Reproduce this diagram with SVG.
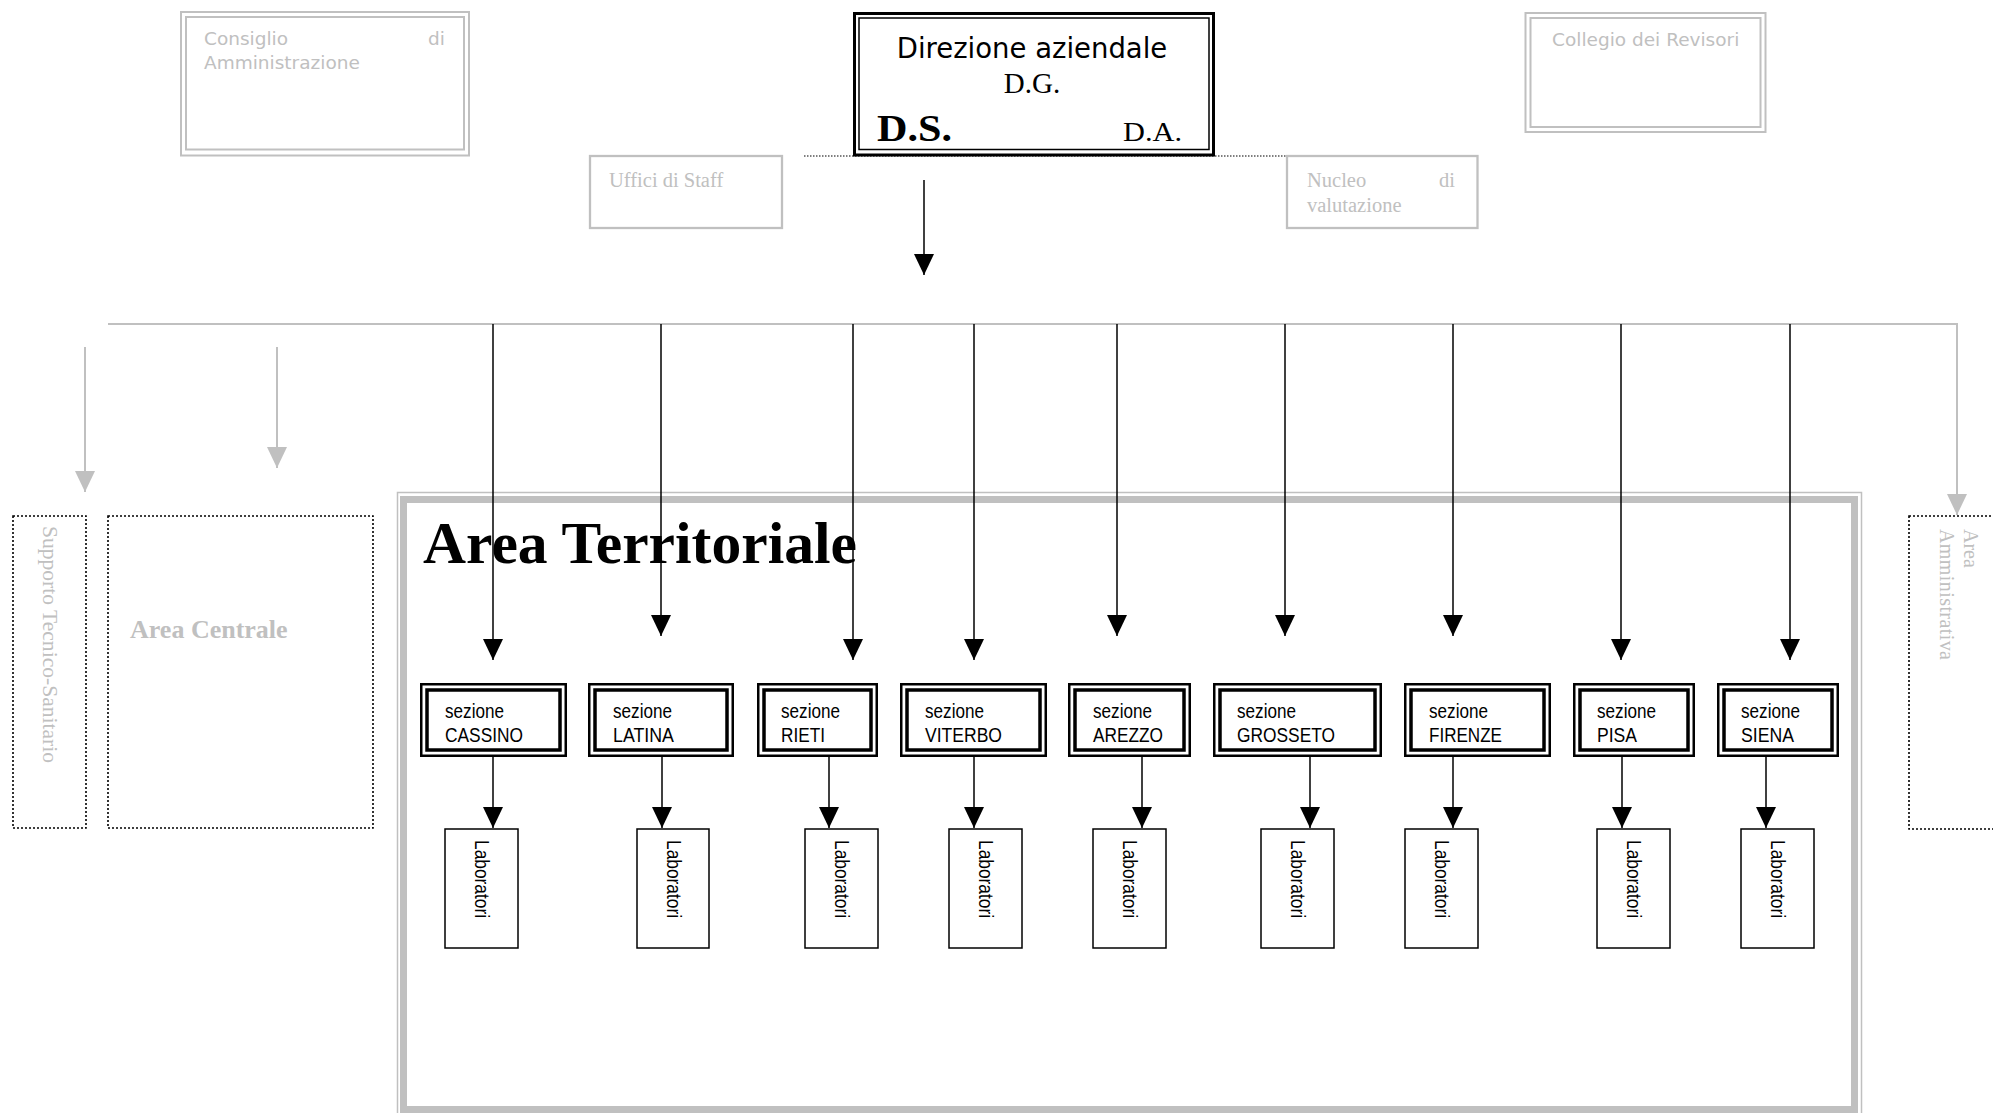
<svg xmlns="http://www.w3.org/2000/svg" width="1993" height="1113" viewBox="0 0 1993 1113">
<style>
.g2{fill:none;stroke:#c0c0c0;stroke-width:2}
.gt{fill:#c0c0c0;font-family:"DejaVu Sans",sans-serif;font-size:18.5px}
.gtt{fill:#c0c0c0;font-family:"Liberation Serif","Times New Roman",serif;font-size:20.5px}
.dot{fill:none;stroke:#000;stroke-width:1.6;stroke-dasharray:2,2}
.sec1{fill:#fff;stroke:#000;stroke-width:2.5}
.sec2{fill:none;stroke:#000;stroke-width:3.5}
.st{font-family:"Liberation Sans",Arial,sans-serif;font-size:20px;fill:#000}
.lab{fill:#fff;stroke:#000;stroke-width:1.5}
.blk{fill:none;stroke:#000;stroke-width:1.5}
.gry{fill:none;stroke:#c0c0c0;stroke-width:2}
</style>
<defs>
<marker id="ab" markerUnits="userSpaceOnUse" markerWidth="22" markerHeight="22" refX="21" refY="10" orient="auto"><path d="M0,0 L21,10 L0,20 z" fill="#000"/></marker>
<marker id="ag" markerUnits="userSpaceOnUse" markerWidth="22" markerHeight="22" refX="21" refY="10" orient="auto"><path d="M0,0 L21,10 L0,20 z" fill="#c0c0c0"/></marker>
</defs>
<rect width="1993" height="1113" fill="#fff"/>

<g id="consiglio">
<rect class="g2" x="181" y="12" width="288" height="143.5"/>
<rect class="g2" x="186" y="17" width="278" height="132.5"/>
<text class="gt" x="204" y="45">Consiglio</text>
<text class="gt" x="445" y="45" text-anchor="end">di</text>
<text class="gt" x="204" y="68.5">Amministrazione</text>
</g>

<g id="collegio">
<rect class="g2" x="1525.5" y="13" width="240" height="119"/>
<rect class="g2" x="1530.5" y="18" width="230" height="109"/>
<text class="gt" x="1552" y="46">Collegio dei Revisori</text>
</g>

<line class="dot" x1="804" y1="156" x2="1286" y2="156" style="stroke-width:1.2;stroke-dasharray:1.5,1.5"/>

<g id="direzione">
<rect x="854.5" y="13.5" width="359" height="141.5" fill="#fff" stroke="#000" stroke-width="3"/>
<rect x="859" y="18" width="350" height="131.5" fill="none" stroke="#000" stroke-width="1.5"/>
<text x="1032" y="58" text-anchor="middle" font-family="DejaVu Sans,sans-serif" font-size="27.5">Direzione aziendale</text>
<text x="1032" y="92.5" text-anchor="middle" font-family="Liberation Serif,serif" font-size="29">D.G.</text>
<text x="877" y="140.5" font-family="Liberation Serif,serif" font-weight="bold" font-size="38" textLength="75" lengthAdjust="spacingAndGlyphs">D.S.</text>
<text x="1123" y="140.5" font-family="Liberation Serif,serif" font-size="28" textLength="59" lengthAdjust="spacingAndGlyphs">D.A.</text>
</g>

<g id="uffici">
<rect x="590" y="156" width="192" height="72" fill="none" stroke="#c0c0c0" stroke-width="2.3"/>
<text class="gtt" x="609" y="187">Uffici di Staff</text>
</g>

<g id="nucleo">
<rect x="1287" y="156" width="190.5" height="72" fill="none" stroke="#c0c0c0" stroke-width="2.3"/>
<text class="gtt" x="1307" y="187">Nucleo</text>
<text class="gtt" x="1455" y="187" text-anchor="end">di</text>
<text class="gtt" x="1307" y="212">valutazione</text>
</g>

<g id="supporto">
<rect x="13" y="516" width="73" height="312" class="dot"/>
<text transform="translate(43,526) rotate(90)" font-family="Liberation Serif,serif" font-size="21" fill="#c0c0c0" textLength="237" lengthAdjust="spacingAndGlyphs">Supporto Tecnico-Sanitario</text>
</g>

<g id="area-centrale">
<rect x="108" y="516" width="265" height="312" class="dot"/>
<text x="130" y="638" font-family="Liberation Serif,serif" font-weight="bold" font-size="26" fill="#c0c0c0">Area Centrale</text>
</g>

<g id="area-amministrativa">
<rect x="1909" y="516" width="100" height="313" class="dot"/>
<text transform="translate(1964,529) rotate(90)" font-family="Liberation Serif,serif" font-size="20" fill="#c0c0c0">Area</text>
<text transform="translate(1940,529) rotate(90)" font-family="Liberation Serif,serif" font-size="20" fill="#c0c0c0" textLength="131" lengthAdjust="spacing">Amministrativa</text>
</g>

<g id="area-territoriale">
<rect x="397.5" y="492.5" width="1464" height="630" fill="none" stroke="#c0c0c0" stroke-width="1.5"/>
<rect x="403.5" y="499.5" width="1451" height="610" fill="none" stroke="#c0c0c0" stroke-width="7"/>
<text x="423" y="563" font-family="Liberation Serif,serif" font-weight="bold" font-size="59" textLength="434" lengthAdjust="spacingAndGlyphs">Area Territoriale</text>
</g>

<g id="connectors">
<line class="blk" x1="924" y1="180" x2="924" y2="275" marker-end="url(#ab)"/>
<polyline class="gry" points="108,324 1957,324 1957,515" marker-end="url(#ag)"/>
<line class="gry" x1="85" y1="347" x2="85" y2="492" marker-end="url(#ag)"/>
<line class="gry" x1="277" y1="347" x2="277" y2="468" marker-end="url(#ag)"/>
<line class="blk" x1="493" y1="324" x2="493" y2="660" marker-end="url(#ab)"/>
<line class="blk" x1="661" y1="324" x2="661" y2="636" marker-end="url(#ab)"/>
<line class="blk" x1="853" y1="324" x2="853" y2="660" marker-end="url(#ab)"/>
<line class="blk" x1="974" y1="324" x2="974" y2="660" marker-end="url(#ab)"/>
<line class="blk" x1="1117" y1="324" x2="1117" y2="636" marker-end="url(#ab)"/>
<line class="blk" x1="1285" y1="324" x2="1285" y2="636" marker-end="url(#ab)"/>
<line class="blk" x1="1453" y1="324" x2="1453" y2="636" marker-end="url(#ab)"/>
<line class="blk" x1="1621" y1="324" x2="1621" y2="660" marker-end="url(#ab)"/>
<line class="blk" x1="1790" y1="324" x2="1790" y2="660" marker-end="url(#ab)"/>
<line class="blk" x1="493" y1="757" x2="493" y2="828" marker-end="url(#ab)"/>
<line class="blk" x1="662" y1="757" x2="662" y2="828" marker-end="url(#ab)"/>
<line class="blk" x1="829" y1="757" x2="829" y2="828" marker-end="url(#ab)"/>
<line class="blk" x1="974" y1="757" x2="974" y2="828" marker-end="url(#ab)"/>
<line class="blk" x1="1142" y1="757" x2="1142" y2="828" marker-end="url(#ab)"/>
<line class="blk" x1="1310" y1="757" x2="1310" y2="828" marker-end="url(#ab)"/>
<line class="blk" x1="1453" y1="757" x2="1453" y2="828" marker-end="url(#ab)"/>
<line class="blk" x1="1622" y1="757" x2="1622" y2="828" marker-end="url(#ab)"/>
<line class="blk" x1="1766" y1="757" x2="1766" y2="828" marker-end="url(#ab)"/>
</g>

<g id="sez-cassino">
<rect class="sec1" x="421.25" y="684.25" width="144.5" height="71.5"/>
<rect class="sec2" x="427" y="690" width="133" height="60"/>
<text class="st" x="445" y="718" textLength="59" lengthAdjust="spacingAndGlyphs">sezione</text>
<text class="st" x="445" y="742" textLength="78" lengthAdjust="spacingAndGlyphs">CASSINO</text>
</g>
<g id="sez-latina">
<rect class="sec1" x="589.25" y="684.25" width="143.5" height="71.5"/>
<rect class="sec2" x="595" y="690" width="132" height="60"/>
<text class="st" x="613" y="718" textLength="59" lengthAdjust="spacingAndGlyphs">sezione</text>
<text class="st" x="613" y="742" textLength="61" lengthAdjust="spacingAndGlyphs">LATINA</text>
</g>
<g id="sez-rieti">
<rect class="sec1" x="758.25" y="684.25" width="118.5" height="71.5"/>
<rect class="sec2" x="764" y="690" width="107" height="60"/>
<text class="st" x="781" y="718" textLength="59" lengthAdjust="spacingAndGlyphs">sezione</text>
<text class="st" x="781" y="742" textLength="44" lengthAdjust="spacingAndGlyphs">RIETI</text>
</g>
<g id="sez-viterbo">
<rect class="sec1" x="901.25" y="684.25" width="144.5" height="71.5"/>
<rect class="sec2" x="907" y="690" width="133" height="60"/>
<text class="st" x="925" y="718" textLength="59" lengthAdjust="spacingAndGlyphs">sezione</text>
<text class="st" x="925" y="742" textLength="77" lengthAdjust="spacingAndGlyphs">VITERBO</text>
</g>
<g id="sez-arezzo">
<rect class="sec1" x="1069.25" y="684.25" width="120.5" height="71.5"/>
<rect class="sec2" x="1075" y="690" width="109" height="60"/>
<text class="st" x="1093" y="718" textLength="59" lengthAdjust="spacingAndGlyphs">sezione</text>
<text class="st" x="1093" y="742" textLength="70" lengthAdjust="spacingAndGlyphs">AREZZO</text>
</g>
<g id="sez-grosseto">
<rect class="sec1" x="1214.25" y="684.25" width="166.5" height="71.5"/>
<rect class="sec2" x="1220" y="690" width="155" height="60"/>
<text class="st" x="1237" y="718" textLength="59" lengthAdjust="spacingAndGlyphs">sezione</text>
<text class="st" x="1237" y="742" textLength="98" lengthAdjust="spacingAndGlyphs">GROSSETO</text>
</g>
<g id="sez-firenze">
<rect class="sec1" x="1405.25" y="684.25" width="144.5" height="71.5"/>
<rect class="sec2" x="1411" y="690" width="133" height="60"/>
<text class="st" x="1429" y="718" textLength="59" lengthAdjust="spacingAndGlyphs">sezione</text>
<text class="st" x="1429" y="742" textLength="73" lengthAdjust="spacingAndGlyphs">FIRENZE</text>
</g>
<g id="sez-pisa">
<rect class="sec1" x="1574.25" y="684.25" width="119.5" height="71.5"/>
<rect class="sec2" x="1580" y="690" width="108" height="60"/>
<text class="st" x="1597" y="718" textLength="59" lengthAdjust="spacingAndGlyphs">sezione</text>
<text class="st" x="1597" y="742" textLength="40" lengthAdjust="spacingAndGlyphs">PISA</text>
</g>
<g id="sez-siena">
<rect class="sec1" x="1718.25" y="684.25" width="119.5" height="71.5"/>
<rect class="sec2" x="1724" y="690" width="108" height="60"/>
<text class="st" x="1741" y="718" textLength="59" lengthAdjust="spacingAndGlyphs">sezione</text>
<text class="st" x="1741" y="742" textLength="53" lengthAdjust="spacingAndGlyphs">SIENA</text>
</g>

<g id="lab-cassino"><rect class="lab" x="445" y="829" width="73" height="119"/><text class="st" transform="translate(475,840) rotate(90)" textLength="78" lengthAdjust="spacingAndGlyphs">Laboratori</text></g>
<g id="lab-latina"><rect class="lab" x="637" y="829" width="72" height="119"/><text class="st" transform="translate(667,840) rotate(90)" textLength="78" lengthAdjust="spacingAndGlyphs">Laboratori</text></g>
<g id="lab-rieti"><rect class="lab" x="805" y="829" width="73" height="119"/><text class="st" transform="translate(835,840) rotate(90)" textLength="78" lengthAdjust="spacingAndGlyphs">Laboratori</text></g>
<g id="lab-viterbo"><rect class="lab" x="949" y="829" width="73" height="119"/><text class="st" transform="translate(979,840) rotate(90)" textLength="78" lengthAdjust="spacingAndGlyphs">Laboratori</text></g>
<g id="lab-arezzo"><rect class="lab" x="1093" y="829" width="73" height="119"/><text class="st" transform="translate(1123,840) rotate(90)" textLength="78" lengthAdjust="spacingAndGlyphs">Laboratori</text></g>
<g id="lab-grosseto"><rect class="lab" x="1261" y="829" width="73" height="119"/><text class="st" transform="translate(1291,840) rotate(90)" textLength="78" lengthAdjust="spacingAndGlyphs">Laboratori</text></g>
<g id="lab-firenze"><rect class="lab" x="1405" y="829" width="73" height="119"/><text class="st" transform="translate(1435,840) rotate(90)" textLength="78" lengthAdjust="spacingAndGlyphs">Laboratori</text></g>
<g id="lab-pisa"><rect class="lab" x="1597" y="829" width="73" height="119"/><text class="st" transform="translate(1627,840) rotate(90)" textLength="78" lengthAdjust="spacingAndGlyphs">Laboratori</text></g>
<g id="lab-siena"><rect class="lab" x="1741" y="829" width="73" height="119"/><text class="st" transform="translate(1771,840) rotate(90)" textLength="78" lengthAdjust="spacingAndGlyphs">Laboratori</text></g>
</svg>
